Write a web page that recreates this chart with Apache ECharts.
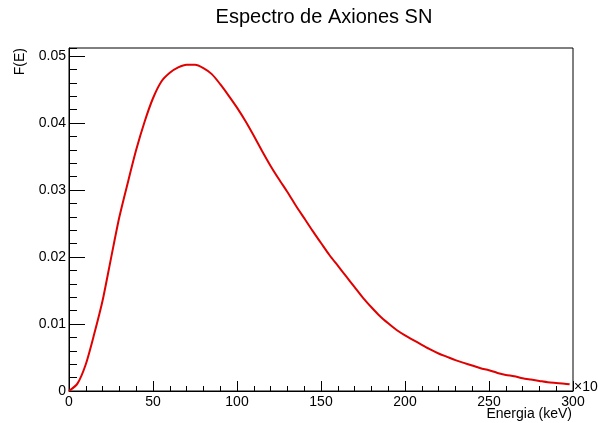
<!DOCTYPE html>
<html>
<head>
<meta charset="utf-8">
<script src="https://cdn.jsdelivr.net/npm/echarts@6/dist/echarts.min.js"></script>
<style>html,body{margin:0;padding:0;background:#fff}#c{width:598px;height:423px}</style>
</head>
<body>
<div id="c"></div>
<script>
const titleText = 'Espectro de Axiones SN';
const xName = 'Energia (keV)';
const yName = 'F(E)';
const xMultiplier = '\u00d710';
const energy = [0,5,10,15,20,25,30,35,40,45,50,55,60,65,70,75,80,85,90,95,100,105,110,115,120,125,130,135,140,145,150,155,160,165,170,175,180,185,190,195,200,205,210,215,220,225,230,235,240,245,250,255,260,265,270,275,280,285,290,295,298];
const flux = [0,0.0011,0.0040,0.0085,0.0135,0.0198,0.0260,0.0311,0.0360,0.0402,0.0437,0.0462,0.0475,0.0483,0.0487,0.0487,0.0482,0.0473,0.0458,0.0441,0.0423,0.0403,0.0381,0.0358,0.0336,0.0316,0.0297,0.0277,0.0258,0.0239,0.0221,0.0203,0.0187,0.0171,0.0155,0.0139,0.0125,0.0112,0.0101,0.0091,0.0083,0.0076,0.0069,0.0062,0.0056,0.0051,0.0046,0.0042,0.0038,0.0034,0.0031,0.0027,0.0024,0.0022,0.0019,0.0017,0.0015,0.0013,0.0012,0.0011,0.0010];

const FONT = '"Liberation Sans", Arial, Helvetica, sans-serif';
const chart = echarts.init(document.getElementById('c'));
const data = energy.map((e, i) => [e, flux[i]]);
chart.setOption({
  animation: false,
  backgroundColor: '#fff',
  grid: {left: 69, right: 25, top: 48, bottom: 32, containLabel: false, outerBoundsMode: 'none',
         show: true, borderColor: '#000', borderWidth: 1, backgroundColor: 'transparent'},
  xAxis: {
    type: 'value', min: 0, max: 300, interval: 50,
    axisLine: {show: true, onZero: false, lineStyle: {color: '#000', width: 1}},
    axisTick: {show: true, inside: true, length: 10, lineStyle: {color: '#000'}},
    minorTick: {show: true, splitNumber: 5, length: 5, lineStyle: {color: '#000'}},
    splitLine: {show: false},
    axisLabel: {color: '#000', fontFamily: FONT, fontSize: 14, margin: 4}
  },
  yAxis: [{
    type: 'value', min: 0, max: 0.0512, interval: 0.01,
    axisLine: {show: true, onZero: false, lineStyle: {color: '#000', width: 1}},
    axisTick: {show: true, inside: true, length: 16, lineStyle: {color: '#000'}},
    splitLine: {show: false},
    axisLabel: {color: '#000', fontFamily: FONT, fontSize: 14, margin: 3,
      showMaxLabel: false,
      formatter: v => {
        const r = Math.round(v * 100);
        if (Math.abs(v * 100 - r) > 1e-6) return '';
        return r === 0 ? '0' : (r / 100).toFixed(2);
      }}
  }, {
    type: 'value', min: 0, max: 0.0512, interval: 0.002, position: 'left', offset: 0,
    axisLine: {show: false},
    axisTick: {show: true, inside: true, length: 8, lineStyle: {color: '#000'}},
    splitLine: {show: false},
    axisLabel: {show: false}
  }],
  series: [{
    type: 'line', data: data, showSymbol: false, smooth: 0.25,
    lineStyle: {color: '#e00000', width: 2}, z: 3
  }],
  graphic: [
    {type: 'text', x: 324, y: 17, style: {text: titleText, font: '20px ' + FONT, fill: '#000', textAlign: 'center', textVerticalAlign: 'middle'}},
    {type: 'text', x: 20, y: 48, rotation: Math.PI / 2, style: {text: yName, font: '14px ' + FONT, fill: '#000', textAlign: 'right', textVerticalAlign: 'middle'}},
    {type: 'text', x: 572, y: 414, style: {text: xName, font: '14px ' + FONT, fill: '#000', textAlign: 'right', textVerticalAlign: 'middle'}},
    {type: 'text', x: 574, y: 387, style: {text: xMultiplier, font: '14px ' + FONT, fill: '#000', textAlign: 'left', textVerticalAlign: 'middle'}}
  ]
});
</script>
</body>
</html>
